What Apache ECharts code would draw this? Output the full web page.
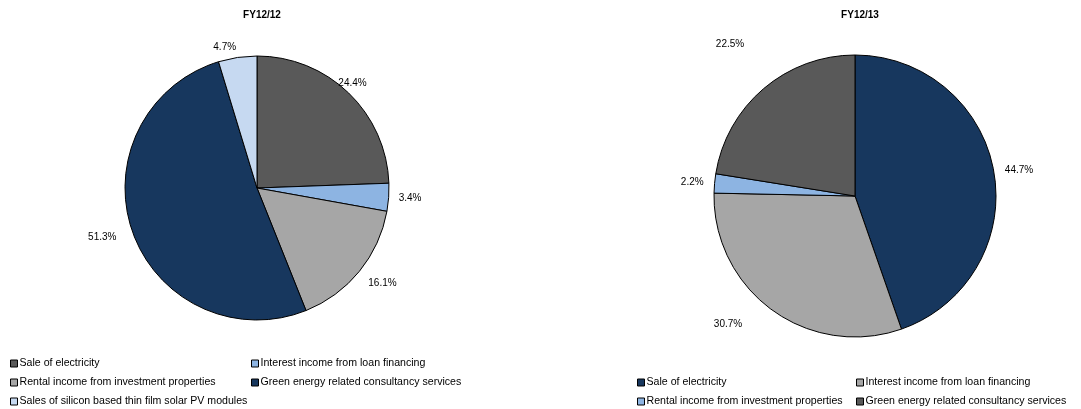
<!DOCTYPE html>
<html><head><meta charset="utf-8">
<script src="https://cdn.jsdelivr.net/npm/echarts@6/dist/echarts.min.js"></script>
<style>html,body{margin:0;padding:0;background:#fff}#c{width:1081px;height:409px}</style>
</head><body><div id="c"></div>
<script>
const titles = ['FY12/12', 'FY12/13'];
const cats1 = ['Sale of electricity', 'Interest income from loan financing', 'Rental income from investment properties', 'Green energy related consultancy services', 'Sales of silicon based thin film solar PV modules'];
const vals1 = [24.4, 3.4, 16.1, 51.3, 4.7];
const cats2 = ['Sale of electricity', 'Interest income from loan financing', 'Rental income from investment properties', 'Green energy related consultancy services'];
const vals2 = [44.7, 30.7, 2.2, 22.5];
const colors1 = ['#595959', '#8DB4E2', '#A6A6A6', '#17375E', '#C6D9F1'];
const colors2 = ['#17375E', '#A6A6A6', '#8DB4E2', '#595959'];
// label line tweaks (per slice) to mimic the original label placement
const lines1 = [[14, -20], [10, 0], [18, -5], [17, 0], [10, 0]];
const lines2 = [[11, 0], [17, 20], [11, 0], [59, -19]];

const FONT = 'Liberation Sans, Arial, sans-serif';

function mkData(cats, vals, colors, lines) {
  return cats.map((c, i) => ({
    name: c, value: vals[i],
    itemStyle: { color: colors[i] },
    labelLine: { show: false, length: lines[i][0], length2: lines[i][1] }
  }));
}
function mkLegend(left, top, names, cats, colors) {
  return {
    orient: 'vertical', left: left, top: top, itemGap: 8, padding: 0, height: 60,
    itemWidth: 7, itemHeight: 7, icon: 'rect', selectedMode: false,
    textStyle: { fontSize: 10.6, color: '#000', fontFamily: FONT, padding: [0, 0, 0, -3] },
    data: names.map(n => ({ name: n, itemStyle: { color: colors[cats.indexOf(n)], borderColor: '#000', borderWidth: 1 } }))
  };
}
const pieCommon = {
  type: 'pie', startAngle: 90, clockwise: true, avoidLabelOverlap: false,
  itemStyle: { borderColor: '#000', borderWidth: 1 },
  label: { show: true, position: 'outside', formatter: p => p.value.toFixed(1) + '%', fontSize: 10, color: '#000', fontFamily: FONT, distanceToLabelLine: 0 },
  emphasis: { scale: false },
  animation: false
};
const chart = echarts.init(document.getElementById('c'), null, { renderer: 'canvas' });
chart.setOption({
  animation: false,
  textStyle: { fontFamily: FONT },
  title: [
    { text: titles[0], left: 257, top: 5, textAlign: 'center', textStyle: { fontSize: 10, fontWeight: 'bold', color: '#000', fontFamily: FONT } },
    { text: titles[1], left: 855, top: 5, textAlign: 'center', textStyle: { fontSize: 10, fontWeight: 'bold', color: '#000', fontFamily: FONT } }
  ],
  legend: [
    mkLegend(10, 358, [cats1[0], cats1[2], cats1[4]], cats1, colors1),
    mkLegend(251, 358, [cats1[1], cats1[3]], cats1, colors1),
    mkLegend(637, 377, [cats2[0], cats2[2]], cats2, colors2),
    mkLegend(856, 377, [cats2[1], cats2[3]], cats2, colors2)
  ],
  series: [
    Object.assign({}, pieCommon, { name: titles[0], center: [257, 188], radius: 132, data: mkData(cats1, vals1, colors1, lines1) }),
    Object.assign({}, pieCommon, { name: titles[1], center: [855, 196], radius: 141, data: mkData(cats2, vals2, colors2, lines2) })
  ]
});
</script></body></html>
